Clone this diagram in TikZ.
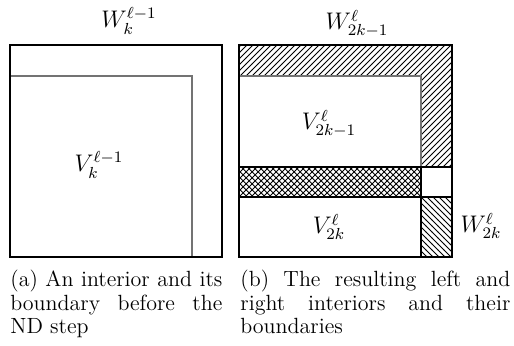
\documentclass[tikz,border=0pt]{standalone}
\usetikzlibrary{patterns}
\tikzset{
  frame/.style={draw=black, line width=0.55pt},
  inner/.style={draw=black!55, line width=0.7pt},
  mlabel/.style={inner sep=0pt, font=\fontsize{12}{14}\selectfont},
  caption/.style={inner sep=0pt, anchor=base west, font=\fontsize{11}{11.75}\selectfont},
}
\begin{document}
\begin{tikzpicture}[x=0.5pt, y=-0.5pt]
\useasboundingbox (0,0) rectangle (514,346);
% ---------- (a) ----------
\draw[inner] (10,76) -- (192,76) -- (192,257);
\draw[frame] (10,45) rectangle (222,257);
\node[mlabel, anchor=base] (wa) at (129,28) {$W_k^{\ell-1}$};
\node[mlabel, anchor=base] (va) at (99,172) {$V_k^{\ell-1}$};
% ---------- (b) ----------
\fill[pattern=north east lines] (239,45) -- (452,45) -- (452,167) -- (421,167) -- (421,76) -- (239,76) -- cycle;
\fill[pattern=crosshatch] (239,167) rectangle (421,197);
\fill[pattern=north west lines] (421,197) rectangle (452,257);
\draw[inner] (239,76) -- (421,76) -- (421,167);
\draw[frame] (239,167) rectangle (421,197);
\draw[frame] (421,167) rectangle (452,197);
\draw[frame] (421,197) -- (421,257);
\draw[frame] (239,45) rectangle (452,257);
\node[mlabel, anchor=base] (wb1) at (357,30) {$W_{2k-1}^{\ell}$};
\node[mlabel, anchor=base] (vb1) at (329,130) {$V_{2k-1}^{\ell}$};
\node[mlabel, anchor=base] (vb2) at (329,234) {$V_{2k}^{\ell}$};
\node[mlabel, anchor=base] (wb2) at (481,233) {$W_{2k}^{\ell}$};
% ---------- captions ----------
\node[caption] (capa) at (10,287) {\parbox[t]{106pt}{(a) An interior and its\linebreak boundary before the\linebreak ND step}};
\node[caption] (capb) at (240,287) {\parbox[t]{135pt}{(b) The resulting left and\linebreak right interiors and their\linebreak boundaries}};
\end{tikzpicture}
\end{document}
